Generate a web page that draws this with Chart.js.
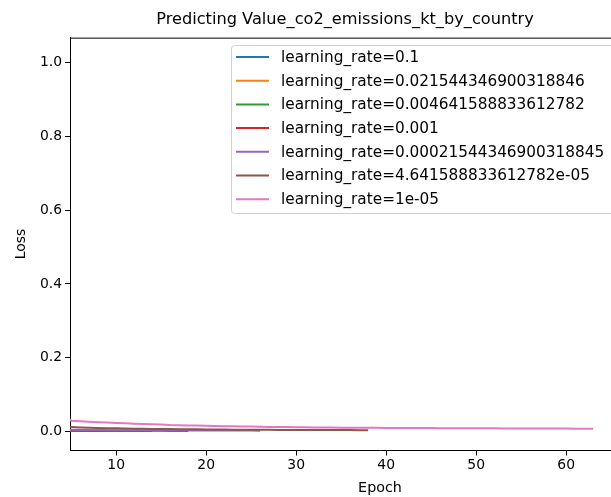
<!DOCTYPE html>
<html>
<head>
<meta charset="utf-8">
<script src="https://cdn.jsdelivr.net/npm/chart.js@4/dist/chart.umd.min.js"></script>
<style>
    html, body { margin: 0; padding: 0; background: #fff; overflow: hidden; }
    #wrap { width: 690px; height: 497px; }
</style>
</head>
<body>
<div id="wrap"><canvas id="lossChart" width="690" height="497"></canvas></div>
<script>
// Epochs (x values); early epochs sit left of the visible x range
const epochs = [1, 2, 3, 4, 5, 6, 7, 8, 9, 10, 11, 12, 13, 14, 15, 16, 17, 18, 19, 20,
    21, 22, 23, 24, 25, 26, 27, 28, 29, 30, 31, 32, 33, 34, 35, 36, 37, 38, 39, 40,
    41, 42, 43, 44, 45, 46, 47, 48, 49, 50, 51, 52, 53, 54, 55, 56, 57, 58, 59, 60,
    61, 62, 63];

const seriesLabels = [
    'learning_rate=0.1',
    'learning_rate=0.021544346900318846',
    'learning_rate=0.004641588833612782',
    'learning_rate=0.001',
    'learning_rate=0.00021544346900318845',
    'learning_rate=4.641588833612782e-05',
    'learning_rate=1e-05'
];

const lossLr1 = [0.030, 0.006, 0.0040, 0.0035, 0.0032, 0.0031, 0.0030, 0.0029, 0.0029];
const lossLr2 = [0.020, 0.004, 0.0030, 0.0028, 0.0027, 0.0026, 0.0026, 0.0025, 0.0025, 0.0025, 0.0024];
const lossLr3 = [0.040, 0.005, 0.0032, 0.0029, 0.0027, 0.0026, 0.0025, 0.0024, 0.0023, 0.0023, 0.0022,
    0.0022, 0.0021, 0.0021];
const lossLr4 = [0.080, 0.008, 0.0040, 0.0033, 0.0031, 0.0030, 0.0029, 0.0028, 0.0027, 0.0026, 0.0026,
    0.0025, 0.0025, 0.0024, 0.0024, 0.0023, 0.0023, 0.0022];
const lossLr5 = [0.250, 0.030, 0.010, 0.0065, 0.0055, 0.0050, 0.0047, 0.0045, 0.0043, 0.0041, 0.0040,
    0.0039, 0.0038, 0.0037, 0.0036, 0.0035, 0.0035, 0.0034, 0.0034, 0.0033, 0.0033, 0.0032,
    0.0032, 0.0031, 0.0031, 0.0030];
const lossLr6 = [0.550, 0.120, 0.040, 0.022, 0.0125, 0.0115, 0.0108, 0.0102, 0.0097, 0.0092, 0.0088,
    0.0084, 0.0080, 0.0077, 0.0074, 0.0071, 0.0068, 0.0066, 0.0064, 0.0062, 0.0060, 0.0058,
    0.0056, 0.0055, 0.0053, 0.0052, 0.0051, 0.0050, 0.0049, 0.0048, 0.0047, 0.0046, 0.0045,
    0.0045, 0.0044, 0.0044, 0.0043, 0.0043];
const lossLr7 = [1.016, 0.310, 0.110, 0.048, 0.0300, 0.0284, 0.0270, 0.0258, 0.0247, 0.0237, 0.0228,
    0.0219, 0.0211, 0.0203, 0.0196, 0.0184, 0.0178, 0.0172, 0.0166, 0.0161, 0.0156, 0.0151,
    0.0147, 0.0143, 0.0139, 0.0135, 0.0131, 0.0128, 0.0125, 0.0122, 0.0119, 0.0117, 0.0115,
    0.0113, 0.0111, 0.0109, 0.0108, 0.0106, 0.0105, 0.0104, 0.0102, 0.0101, 0.0100, 0.0099,
    0.0098, 0.0097, 0.0096, 0.0095, 0.0094, 0.0093, 0.0092, 0.0091, 0.0090, 0.0089, 0.0088,
    0.0088, 0.0087, 0.0086, 0.0085, 0.0085, 0.0084, 0.0083, 0.0082];

const xTicks = [10, 20, 30, 40, 50, 60];
const yTicks = [0.0, 0.2, 0.4, 0.6, 0.8, 1.0];

const allLosses = [lossLr1, lossLr2, lossLr3, lossLr4, lossLr5, lossLr6, lossLr7];
const colors = ['#1f77b4', '#ff7f0e', '#2ca02c', '#d62728', '#9467bd', '#8c564b', '#e377c2'];

const FONT = 'DejaVu Sans, sans-serif';

const datasets = allLosses.map((losses, i) => ({
    label: seriesLabels[i],
    data: losses.map((v, j) => ({ x: epochs[j], y: v })),
    borderColor: colors[i],
    backgroundColor: colors[i],
    borderWidth: 2,
    pointRadius: 0,
    tension: 0,
    fill: false,
    order: allLosses.length - i // later series drawn on top, like matplotlib
}));

// top spine + legend box in the upper right corner
const framePlugin = {
    id: 'frame',
    afterDraw(chart) {
        const ctx = chart.ctx;
        const area = chart.chartArea;
        ctx.save();
        ctx.strokeStyle = '#000';
        ctx.lineWidth = 1;
        ctx.beginPath();
        ctx.moveTo(area.left, area.top + 0.5);
        ctx.lineTo(area.right, area.top + 0.5);
        ctx.stroke();

        // legend
        const boxLeft = 231, boxTop = 45, boxRight = 614, boxBottom = 213;
        ctx.fillStyle = 'rgba(255,255,255,0.8)';
        ctx.strokeStyle = '#d0d0d0';
        ctx.beginPath();
        ctx.roundRect(boxLeft + 0.5, boxTop + 0.5, boxRight - boxLeft, boxBottom - boxTop, 3);
        ctx.fill();
        ctx.stroke();

        ctx.font = '15.3px ' + FONT;
        ctx.textBaseline = 'middle';
        ctx.textAlign = 'left';
        chart.data.datasets.forEach((ds, i) => {
            const y = 57 + i * 23.7;
            ctx.strokeStyle = ds.borderColor;
            ctx.lineWidth = 2;
            ctx.beginPath();
            ctx.moveTo(236, y);
            ctx.lineTo(269, y);
            ctx.stroke();
            ctx.fillStyle = '#000';
            ctx.fillText(ds.label, 281, y + 1);
        });
        ctx.restore();
    }
};

new Chart(document.getElementById('lossChart'), {
    type: 'line',
    data: { datasets: datasets },
    options: {
        responsive: false,
        animation: false,
        events: [],
        layout: { padding: 0 },
        plugins: {
            legend: { display: false },
            tooltip: { enabled: false },
            title: {
                display: true,
                text: 'Predicting Value_co2_emissions_kt_by_country',
                color: '#000',
                font: { family: FONT, size: 16.2, weight: 'normal' },
                padding: { top: 10, bottom: 8.2 }
            }
        },
        scales: {
            x: {
                type: 'linear',
                min: 4.87,
                max: 73.76,
                afterFit: (scale) => { scale.height = 46.5; },
                afterBuildTicks: (scale) => { scale.ticks = xTicks.map(v => ({ value: v })); },
                grid: { drawOnChartArea: false, drawTicks: true, tickLength: 5, color: '#000', tickWidth: 1 },
                border: { color: '#000', width: 1 },
                ticks: {
                    color: '#000',
                    font: { family: FONT, size: 13.9 },
                    padding: 2,
                    maxRotation: 0,
                    autoSkip: false
                },
                title: {
                    display: true,
                    text: 'Epoch',
                    color: '#000',
                    font: { family: FONT, size: 14.3 },
                    padding: { top: 0, bottom: 0 }
                }
            },
            y: {
                type: 'linear',
                min: -0.0508,
                max: 1.0668,
                afterFit: (scale) => { scale.width = 70; },
                afterBuildTicks: (scale) => { scale.ticks = yTicks.map(v => ({ value: v })); },
                grid: { drawOnChartArea: false, drawTicks: true, tickLength: 5, color: '#000', tickWidth: 1 },
                border: { color: '#000', width: 1 },
                ticks: {
                    color: '#000',
                    font: { family: FONT, size: 13.9 },
                    padding: 3,
                    callback: (v) => v.toFixed(1)
                },
                title: {
                    display: true,
                    text: 'Loss',
                    color: '#000',
                    font: { family: FONT, size: 13.9 },
                    padding: { top: 13, bottom: 0 }
                }
            }
        }
    },
    plugins: [framePlugin]
});
</script>
</body>
</html>
